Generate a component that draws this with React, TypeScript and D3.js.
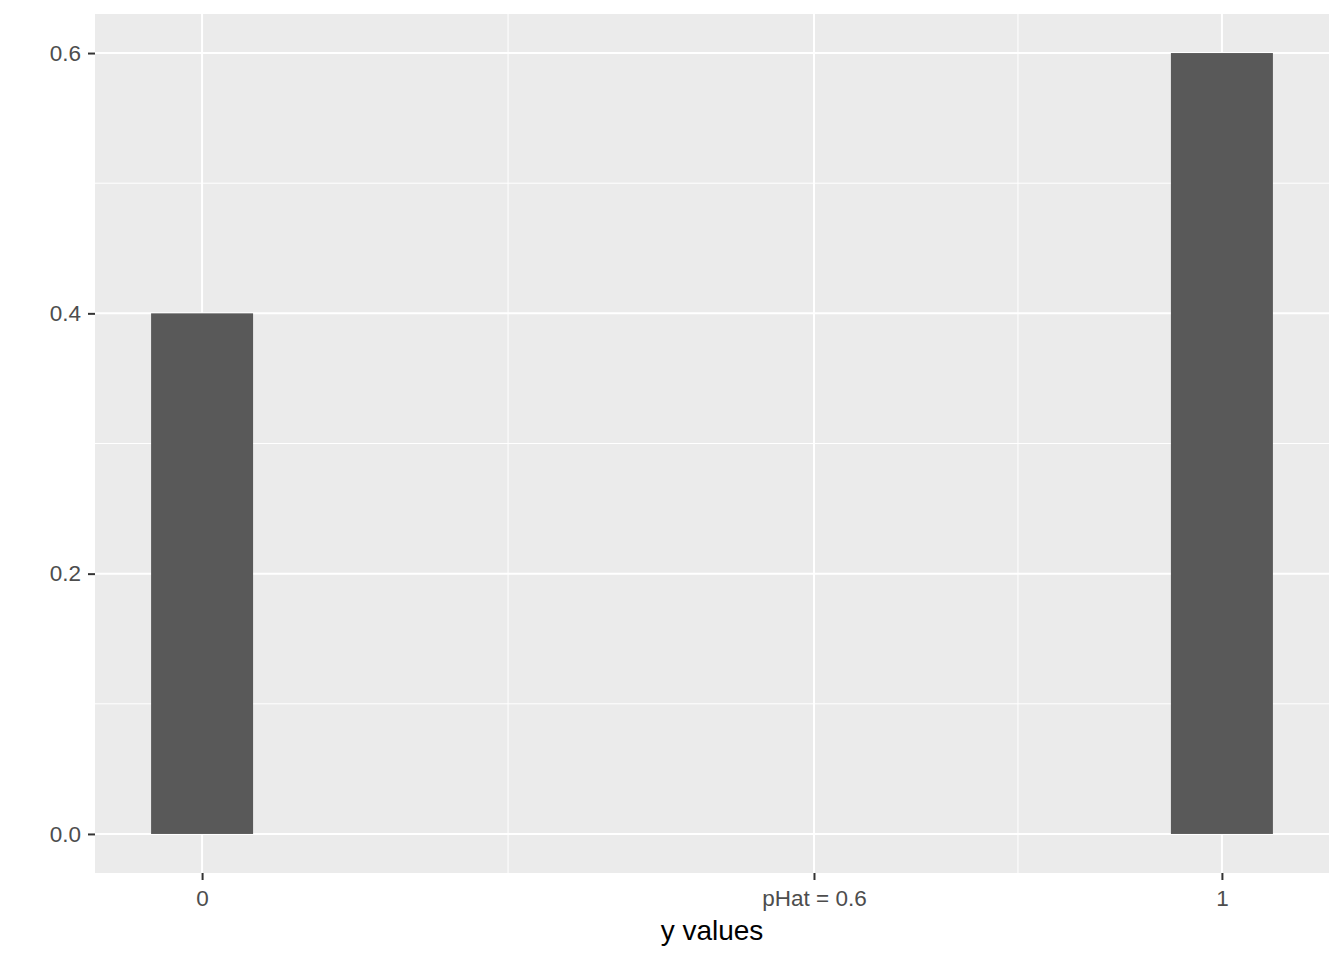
import { useEffect, useRef } from "react";
import * as d3 from "d3";

const categories = [0, 1];
const proportions = [0.4, 0.6];
const barWidth = 0.1;
const xTickValues = [0, 0.6, 1];
const xTickLabels = ["0", "pHat = 0.6", "1"];
const xMinorValues = [0.3, 0.8];
const yTickValues = [0, 0.2, 0.4, 0.6];
const yMinorValues = [0.1, 0.3, 0.5];

const W = 1344;
const H = 960;
const M = { top: 14, right: 15, bottom: 87, left: 95 };
const FONT = "'Liberation Sans', Arial, sans-serif";

export default function App() {
  const ref = useRef<SVGSVGElement>(null);

  useEffect(() => {
    const svg = d3.select(ref.current);
    svg.selectAll("*").remove();

    const x = d3.scaleLinear().domain([-0.105, 1.105]).range([M.left, W - M.right]);
    const y = d3.scaleLinear().domain([-0.03, 0.63]).range([H - M.bottom, M.top]);

    svg.append("rect").attr("width", W).attr("height", H).attr("fill", "white");

    // panel
    svg.append("rect")
      .attr("x", M.left).attr("y", M.top)
      .attr("width", W - M.left - M.right).attr("height", H - M.top - M.bottom)
      .attr("fill", "#EBEBEB");

    const grid = svg.append("g");
    grid.selectAll(".ym").data(yMinorValues).join("line")
      .attr("x1", M.left).attr("x2", W - M.right)
      .attr("y1", d => y(d)).attr("y2", d => y(d))
      .attr("stroke", "white").attr("stroke-width", 1);
    grid.selectAll(".xm").data(xMinorValues).join("line")
      .attr("y1", M.top).attr("y2", H - M.bottom)
      .attr("x1", d => x(d)).attr("x2", d => x(d))
      .attr("stroke", "white").attr("stroke-width", 1);
    grid.selectAll(".yM").data(yTickValues).join("line")
      .attr("x1", M.left).attr("x2", W - M.right)
      .attr("y1", d => y(d)).attr("y2", d => y(d))
      .attr("stroke", "white").attr("stroke-width", 2);
    grid.selectAll(".xM").data(xTickValues).join("line")
      .attr("y1", M.top).attr("y2", H - M.bottom)
      .attr("x1", d => x(d)).attr("x2", d => x(d))
      .attr("stroke", "white").attr("stroke-width", 2);

    // bars
    svg.append("g").selectAll("rect").data(categories).join("rect")
      .attr("x", d => x(d - barWidth / 2))
      .attr("width", d => x(d + barWidth / 2) - x(d - barWidth / 2))
      .attr("y", (d, i) => y(proportions[i]))
      .attr("height", (d, i) => y(0) - y(proportions[i]))
      .attr("fill", "#595959");

    // axes
    const xAxis = d3.axisBottom(x)
      .tickValues(xTickValues)
      .tickFormat((d, i) => xTickLabels[i])
      .tickSize(7).tickPadding(10);
    const gx = svg.append("g")
      .attr("transform", `translate(0,${H - M.bottom})`)
      .call(xAxis);
    gx.select(".domain").remove();

    const yAxis = d3.axisLeft(y)
      .tickValues(yTickValues)
      .tickFormat(d3.format(".1f"))
      .tickSize(7).tickPadding(7);
    const gy = svg.append("g")
      .attr("transform", `translate(${M.left},0)`)
      .call(yAxis);
    gy.select(".domain").remove();

    [gx, gy].forEach(g => {
      g.selectAll(".tick line").attr("stroke", "#333333").attr("stroke-width", 2);
      g.selectAll(".tick text")
        .attr("fill", "#4D4D4D")
        .style("font-family", FONT)
        .style("font-size", "22.5px");
    });

    svg.append("text")
      .attr("x", (M.left + W - M.right) / 2)
      .attr("y", 940)
      .attr("text-anchor", "middle")
      .style("font-family", FONT)
      .style("font-size", "28px")
      .attr("fill", "black")
      .text("y values");
  }, []);

  return (
    <svg
      ref={ref}
      width={W}
      height={H}
      style={{ position: "absolute", left: 0, top: 0, display: "block" }}
    />
  );
}
